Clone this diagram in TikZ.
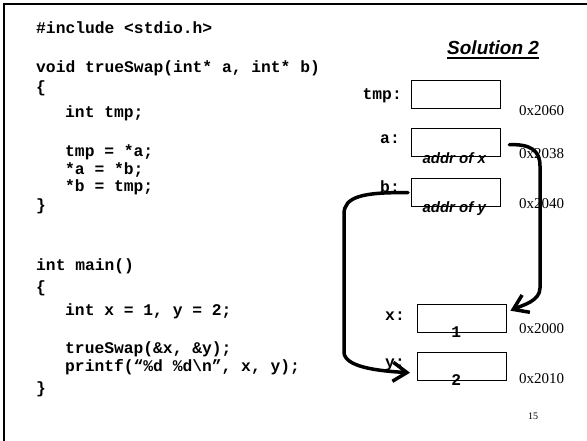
\documentclass[tikz,border=0pt]{standalone}
\usepackage{fontspec}
\setmainfont{Liberation Serif}
\newfontfamily\codefont{Liberation Mono}
\newfontfamily\labelfont{Liberation Sans}
\usetikzlibrary{arrows.meta,calc}

\begin{document}
\begin{tikzpicture}[x=1pt,y=-1pt,
  code/.style={anchor=base west, inner sep=0pt, font=\codefont\bfseries\fontsize{16.3}{17}\selectfont},
  cell/.style={draw, line width=1.4pt, minimum width=89pt, minimum height=28pt, inner sep=0pt, anchor=north west},
  varname/.style={anchor=base east, inner sep=0pt, font=\codefont\bfseries\fontsize{16.3}{17}\selectfont},
  addr/.style={anchor=base west, inner sep=0pt, font=\fontsize{15}{16}\selectfont},
  content/.style={anchor=base, inner sep=0pt, font=\labelfont\bfseries\itshape\fontsize{15}{16}\selectfont},
  value/.style={anchor=base, inner sep=0pt, font=\codefont\bfseries\fontsize{16.3}{17}\selectfont},
  pointer/.style={line width=3.5pt, line cap=round, -{Straight Barb[length=14pt,width=19pt]}},
]
\useasboundingbox (0,0) rectangle (587,441);

% slide frame (top and left edges)
\draw[line width=2.5pt] (4,441) -- (4,4) -- (587,4);

% program text
\node[code] (l1)  at (36,34)  {\#include <stdio.h>};
\node[code] (l2)  at (36,73)  {void trueSwap(int* a, int* b)};
\node[code] (l3)  at (36,93)  {\{};
\node[code] (l4)  at (65,118) {int tmp;};
\node[code] (l5)  at (65,157) {tmp = *a;};
\node[code] (l6)  at (65,175) {*a = *b;};
\node[code] (l7)  at (65,192) {*b = tmp;};
\node[code] (l8)  at (36,211) {\}};
\node[code] (l9)  at (36,270) {int main()};
\node[code] (l10) at (36,292) {\{};
\node[code] (l11) at (65,315) {int x = 1, y = 2;};
\node[code] (l12) at (65,353) {trueSwap(\&x, \&y);};
\node[code] (l13) at (65,371) {printf(“\%d \%d\textbackslash n”, x, y);};
\node[code] (l14) at (36,393) {\}};

% heading
\node[anchor=base west, inner sep=0pt, font=\labelfont\bfseries\itshape\fontsize{19}{20}\selectfont] (title) at (447,55) {Solution 2};
\draw[line width=1.5pt] ($(title.base west)+(0,3)$) -- ($(title.base east)+(0,3)$);

% memory cells
\node[cell] (tmpcell) at (411,80)  {};
\node[cell] (acell)   at (411,128) {};
\node[cell] (bcell)   at (411,178) {};
\node[cell] (xcell)   at (417,304) {};
\node[cell] (ycell)   at (417,352) {};

% variable names
\node[varname] (tmpname) at (402,100) {tmp:};
\node[varname] (aname)   at (400,144) {a:};
\node[varname] (bname)   at (400,193) {b:};
\node[varname] (xname)   at (405,320) {x:};
\node[varname] (yname)   at (405,367) {y:};

% addresses
\node[addr] (tmpaddr) at (519,116) {0x2060};
\node[addr] (aaddr)   at (519,159) {0x2038};
\node[addr] (baddr)   at (519,208) {0x2040};
\node[addr] (xaddr)   at (519,333) {0x2000};
\node[addr] (yaddr)   at (519,383) {0x2010};

% cell contents
\node[content] (aval) at ($(acell.south)+(-2,6)$) {addr of x};
\node[content] (bval) at ($(bcell.south)+(-2,5)$) {addr of y};
\node[value]   (xval) at ($(xcell.south)+(-6,4)$) {1};
\node[value]   (yval) at ($(ycell.south)+(-6,4)$) {2};

% page number
\node[anchor=base west, inner sep=0pt, font=\fontsize{10}{11}\selectfont] (pageno) at (528,419) {15};

% pointers
\coordinate (aout) at ($(acell.east)+(8,2)$);
\coordinate (xin)  at ($(xcell.east)+(3,-8)$);
\coordinate (bout) at ($(bcell.west)+(-3,0)$);
\coordinate (yin)  at ($(ycell.west)+(-7,6)$);

\draw[pointer] (aout) .. controls (530,144) and (540,150) .. (540,166)
  -- (540,288) .. controls (540,301) and (523,305) .. (xin);
\draw[pointer] (bout) .. controls (362,192) and (344,197) .. (344,214)
  -- (344,352) .. controls (344,367) and (378,371) .. (yin);
\end{tikzpicture}
\end{document}
